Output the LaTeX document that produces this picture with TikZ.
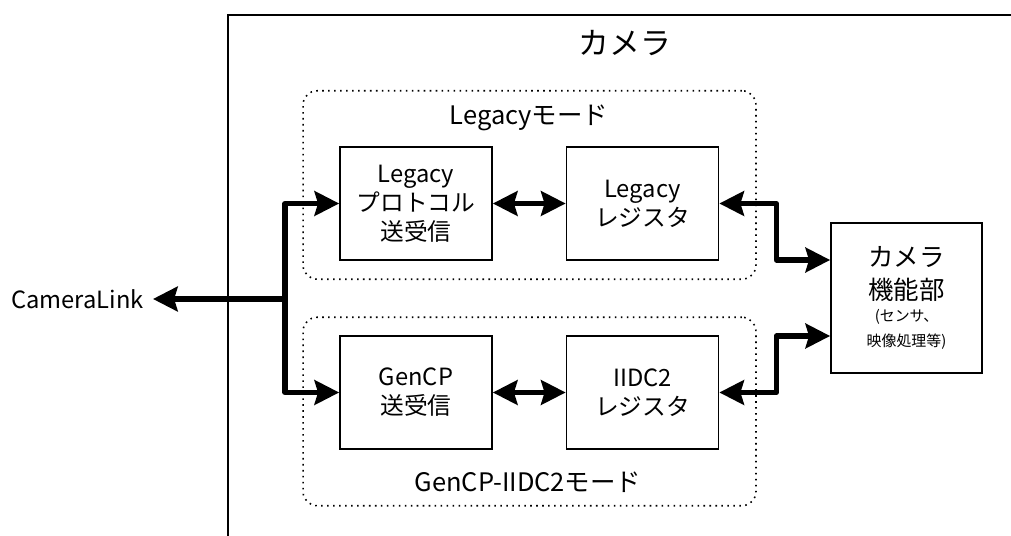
\documentclass[tikz,border=0pt]{standalone}
\usepackage{fontspec}
\setmainfont{Noto Sans CJK JP}
\usetikzlibrary{arrows.meta,calc}

\newcommand{\bigtxt}{\fontsize{14.5pt}{19.8pt}\selectfont}
\newcommand{\smalltxt}{\fontsize{8.5pt}{11.3pt}\selectfont}

\begin{document}
\begin{tikzpicture}[x=0.02cm,y=-0.02cm]
            \tikzset{block/.style = {draw, line width=1pt, minimum width=3.04cm, minimum height=2.26cm, inner sep=0pt, align=center, font=\fontsize{13.5pt}{16.5pt}\selectfont}}
            \tikzset{mode/.style = {draw, line width=0.9pt, dash pattern=on 0.9pt off 2.5pt, rounded corners=8pt, minimum width=9.06cm, minimum height=3.77cm, inner sep=0pt}}
            \tikzset{label/.style = {font=\fontsize{14.5pt}{17pt}\selectfont}}
            \tikzset{bus/.style = {line width=2.9pt, line join=round, >={Stealth[length=14pt,width=14pt,inset=2pt]}}}

            \useasboundingbox (0,0) rectangle (1011,536);

            % camera frame
            \draw[line width=1.2pt] (1011,15) -| (228,536);
            \node[font=\fontsize{17.5pt}{20pt}\selectfont] (cam) at (625,43) {カメラ};

            % modes
            \node[mode] (lmode) at (529.5,185) {};
            \node[mode] (gmode) at (529.5,411.5) {};
            \node[label] (lname) at (529,118) {Legacyモード};
            \node[label] (gname) at (528,482) {GenCP-IIDC2モード};

            % blocks
            \node[block] (lp) at (416,203.5) {Legacy\\プロトコル\\送受信};
            \node[block] (lr) at (642.5,203.5) {Legacy\\レジスタ};
            \node[block] (gp) at (416,392.5) {GenCP\\送受信};
            \node[block] (ir) at (642.5,392.5) {IIDC2\\レジスタ};
            \node[block, minimum width=3.02cm, minimum height=3cm, font=\bigtxt] (func) at (906.5,298)
              {カメラ\\[-1pt]機能部\\[-7.5pt]\smalltxt (センサ、\\[-5.5pt]\smalltxt 映像処理等)};

            \node[anchor=east, inner sep=5pt, font=\fontsize{13.5pt}{16pt}\selectfont] (link) at (153,299) {CameraLink};
            \coordinate (jn) at (285,299);

            % edges
            \draw[bus,->] (jn) -- (link.east);
            \foreach \b in {lp,gp} {\draw[bus,->] (jn) |- (\b.west);}
            \foreach \a/\b in {lp/lr,gp/ir} {\draw[bus,<->] (\a) -- (\b);}
            \draw[bus,<->] (lr.east) -- ++(57,0) |- ([yshift=0.76cm]func.west);
            \draw[bus,<->] (ir.east) -- ++(57,0) |- ([yshift=-0.76cm]func.west);

          \end{tikzpicture}
\end{document}
